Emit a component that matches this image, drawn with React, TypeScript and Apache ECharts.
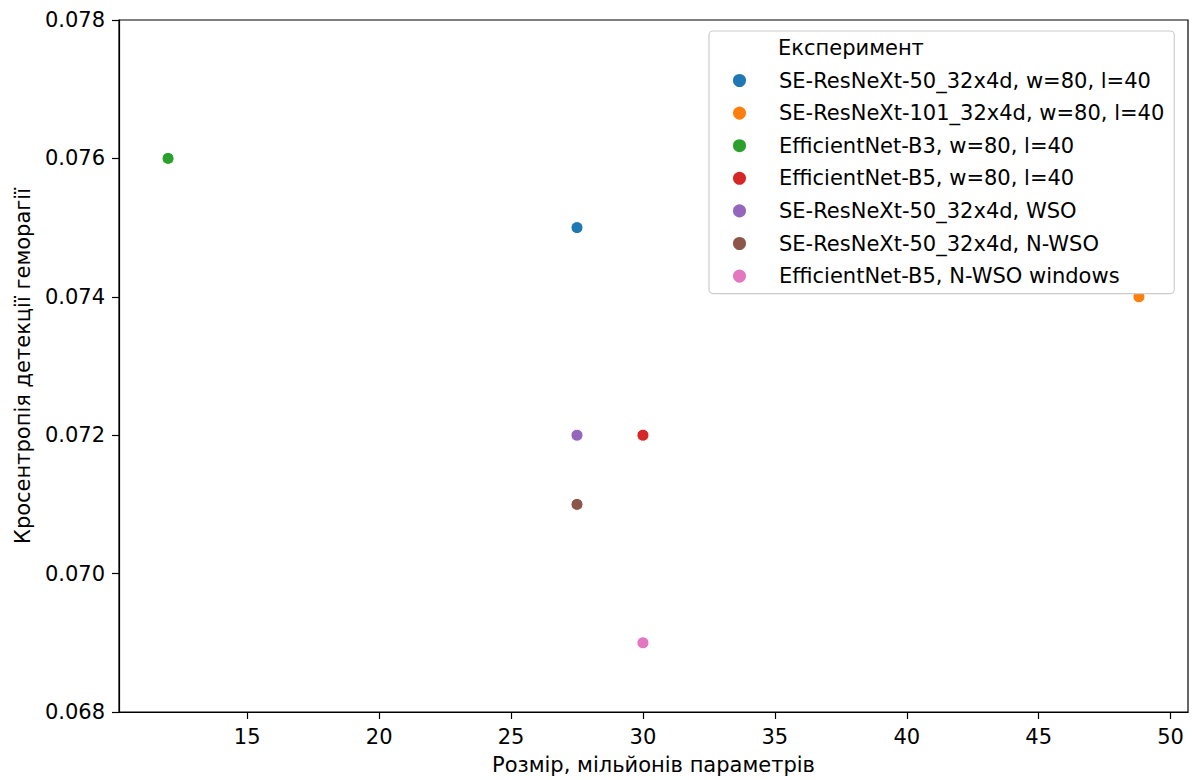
import React, { useEffect, useRef } from "react";
import * as echarts from "echarts";

const seriesNames = [
  "SE-ResNeXt-50_32x4d, w=80, l=40",
  "SE-ResNeXt-101_32x4d, w=80, l=40",
  "EfficientNet-B3, w=80, l=40",
  "EfficientNet-B5, w=80, l=40",
  "SE-ResNeXt-50_32x4d, WSO",
  "SE-ResNeXt-50_32x4d, N-WSO",
  "EfficientNet-B5, N-WSO windows",
];
const sizes = [27.5, 48.8, 12, 30, 27.5, 27.5, 30];
const losses = [0.075, 0.074, 0.076, 0.072, 0.072, 0.071, 0.069];
const colors = ["#1f77b4", "#ff7f0e", "#2ca02c", "#d62728", "#9467bd", "#8c564b", "#e377c2"];
const xTicks = [15, 20, 25, 30, 35, 40, 45, 50];
const legendTitle = "Експеримент";
const xName = "Розмір, мільйонів параметрів";
const yName = "Кросентропія детекції геморагії";

const FONT = "DejaVu Sans";
const FS = 21;

export default function App() {
  const ref = useRef<HTMLDivElement>(null);
  useEffect(() => {
    if (!ref.current) return;
    const chart = echarts.init(ref.current, null, { renderer: "svg" });
    chart.setOption({
      animation: false,
      textStyle: { fontFamily: FONT },
      grid: {
        left: 119,
        right: 9,
        top: 20,
        bottom: 66,
        show: true,
        borderColor: "#000",
        borderWidth: 1.2,
        backgroundColor: "#fff",
      },
      xAxis: {
        type: "value",
        min: 10.14,
        max: 50.66,
        name: xName,
        nameLocation: "middle",
        nameGap: 42,
        nameTextStyle: { fontSize: FS, color: "#000", fontFamily: FONT },
        splitLine: { show: false },
        axisLine: { show: true, onZero: false, lineStyle: { color: "#000", width: 1.2 } },
        axisTick: { show: true, length: 7, customValues: xTicks, lineStyle: { color: "#000", width: 1.2 } },
        axisLabel: {
          customValues: xTicks,
          margin: 14,
          fontSize: FS,
          color: "#000",
          fontFamily: FONT,
        },
      },
      yAxis: {
        type: "value",
        min: 0.068,
        max: 0.078,
        interval: 0.002,
        name: yName,
        nameLocation: "middle",
        nameRotate: 90,
        nameGap: 86,
        nameTextStyle: { fontSize: FS, color: "#000", fontFamily: FONT },
        splitLine: { show: false },
        axisLine: { show: true, onZero: false, lineStyle: { color: "#000", width: 1.2 } },
        axisTick: { show: true, length: 7, lineStyle: { color: "#000", width: 1.2 } },
        axisLabel: {
          margin: 14,
          fontSize: FS,
          color: "#000",
          fontFamily: FONT,
          formatter: (v: number) => v.toFixed(3),
        },
      },
      legend: {
        orient: "vertical",
        left: 709,
        top: 31,
        icon: "circle",
        itemWidth: 15,
        itemHeight: 15,
        itemGap: 11.6,
        padding: [39, 10, 7, 22],
        backgroundColor: "#fff",
        borderColor: "#cccccc",
        borderWidth: 1.2,
        borderRadius: 4,
        textStyle: {
          fontSize: FS,
          lineHeight: 20,
          color: "#000",
          fontFamily: FONT,
          padding: [0, 0, 0, 27],
        },
        data: seriesNames,
      },
      graphic: [
        {
          type: "text",
          left: 778,
          top: 37,
          z: 100,
          style: { text: legendTitle, fontSize: FS, fill: "#000", fontFamily: FONT },
        },
      ],
      series: seriesNames.map((name, i) => ({
        type: "scatter",
        name,
        data: [[sizes[i], losses[i]]],
        symbolSize: 12,
        itemStyle: { color: colors[i], borderColor: "#fff", borderWidth: 1, opacity: 1 },
      })),
    });
    return () => chart.dispose();
  }, []);
  return <div ref={ref} style={{ width: 1197, height: 780, position: "absolute", left: 0, top: 0 }} />;
}
